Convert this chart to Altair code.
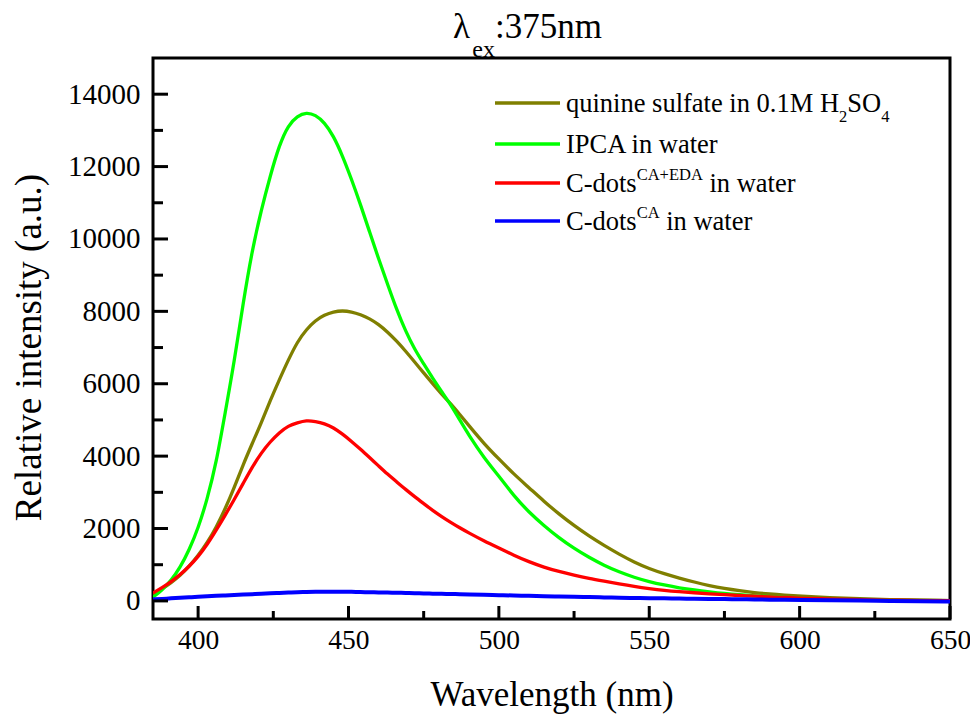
import altair as alt
import pandas as pd

# ---------------- data ----------------
wavelength = [385, 388, 391, 394, 397, 400, 403, 406, 409, 412, 415, 418, 421, 424, 427, 430,
              433, 436, 439, 442, 445, 448, 451, 454, 457, 460, 463, 466, 469, 472, 475, 478,
              481, 484, 487, 490, 495, 500, 505, 510, 515, 520, 525, 530, 535, 540, 545, 550,
              555, 560, 565, 570, 575, 580, 585, 590, 595, 600, 610, 620, 630, 640, 650]

quinine = [190, 330, 500, 700, 950, 1250, 1600, 2030, 2540, 3130, 3770, 4350, 4920, 5540, 6110, 6660,
           7160, 7500, 7750, 7900, 7990, 8020, 7990, 7910, 7800, 7640, 7430, 7180, 6900, 6600, 6300, 6000,
           5710, 5450, 5150, 4850, 4350, 3920, 3500, 3130, 2750, 2400, 2080, 1790, 1530, 1290, 1070, 890,
           750, 630, 520, 420, 340, 280, 230, 190, 160, 135, 90, 60, 35, 20, 10]

ipca = [100, 300, 560, 920, 1400, 2000, 2800, 3800, 5200, 6600, 8250, 9700, 10800, 11750, 12600, 13150,
        13400, 13500, 13430, 13220, 12850, 12300, 11650, 10950, 10200, 9450, 8750, 8050, 7450, 6950, 6550, 6150,
        5780, 5420, 5000, 4580, 3960, 3450, 2900, 2450, 2080, 1740, 1450, 1200, 980, 800, 650, 530,
        440, 360, 300, 250, 205, 170, 140, 115, 95, 80, 50, 30, 18, 10, 5]

cdots_eda = [220, 360, 530, 720, 950, 1220, 1550, 1950, 2370, 2800, 3250, 3700, 4090, 4400, 4650, 4840,
             4920, 4990, 4960, 4900, 4790, 4610, 4410, 4190, 3960, 3730, 3500, 3290, 3080, 2880, 2690, 2500,
             2330, 2170, 2020, 1880, 1660, 1460, 1260, 1080, 930, 810, 710, 620, 545, 470, 400, 340,
             290, 255, 225, 195, 170, 150, 130, 110, 95, 80, 55, 35, 22, 12, 8]

cdots_ca = [40, 55, 70, 85, 100, 115, 125, 140, 150, 165, 175, 185, 195, 210, 220, 230,
            240, 245, 250, 255, 255, 255, 250, 245, 240, 235, 230, 225, 220, 215, 205, 200,
            195, 190, 185, 180, 165, 160, 150, 140, 130, 120, 115, 105, 95, 90, 80, 75,
            70, 65, 60, 55, 50, 45, 40, 35, 30, 30, 20, 10, 0, -10, -15]

series_keys = ["quinine", "ipca", "eda", "ca"]
series_values = [quinine, ipca, cdots_eda, cdots_ca]
series_colors = ["#7f7f00", "#00ff00", "#ff0000", "#0000ff"]

x_major = [400, 450, 500, 550, 600, 650]
x_minor = [425, 475, 525, 575, 625]
y_major = [0, 2000, 4000, 6000, 8000, 10000, 12000, 14000]
y_minor = [1000, 3000, 5000, 7000, 9000, 11000, 13000]

# legend text pieces: (text, role)  role: n = normal, sub = subscript, sup = superscript
legend_rows = [
    [("quinine sulfate in 0.1M H", "n"), ("2", "sub"), ("SO", "n"), ("4", "sub")],
    [("IPCA in water", "n")],
    [("C-dots", "n"), ("CA+EDA", "sup"), (" in water", "n")],
    [("C-dots", "n"), ("CA", "sup"), (" in water", "n")],
]
title_pieces = [("λ", "n"), ("ex", "sub"), (":375nm", "n")]

x_title = "Wavelength (nm)"
y_title = "Relative intensity (a.u.)"

# ---------------- layout / style ----------------
W, H = 797, 561
FONT = "Liberation Serif"
XDOM = [385, 650]
YDOM = [-500, 15000]

# Times-metric character widths (per 1000 em) to place sub/superscripts
CW = {' ': 250, 'q': 500, 'u': 500, 'i': 278, 'n': 500, 'e': 444, 's': 389, 'l': 278, 'f': 333,
      'a': 444, 't': 278, '0': 500, '.': 250, '1': 500, 'M': 889, 'H': 722, 'S': 556, 'O': 722,
      'I': 333, 'P': 556, 'C': 667, 'A': 722, 'w': 722, 'r': 333, '-': 333, 'd': 500, 'o': 500,
      '+': 564, 'E': 611, 'D': 722, '2': 500, '4': 500, 'x': 500, ':': 278, '3': 500, '7': 500,
      '5': 500, 'm': 778, 'λ': 550}


def tw(s, fs):
    return sum(CW.get(c, 500) for c in s) * fs / 1000.0


xs = alt.Scale(domain=XDOM, nice=False, zero=False)
ys = alt.Scale(domain=YDOM, nice=False, zero=False)

x_axis = alt.Axis(
    values=x_major, format="d", ticks=False, tickSize=0, domain=False, grid=False,
    labelFont=FONT, labelFontSize=27.5, labelColor="black", labelPadding=7,
    labelFlush=False, labelOverlap=False,
    title=x_title, titleFont=FONT, titleFontSize=35, titleFontWeight="normal",
    titleColor="black", titleY=86, titleBaseline="alphabetic")
y_axis = alt.Axis(
    values=y_major, format="d", ticks=False, tickSize=0, domain=False, grid=False,
    labelFont=FONT, labelFontSize=29, labelColor="black", labelPadding=13,
    labelFlush=False, labelOverlap=False,
    title=y_title, titleFont=FONT, titleFontSize=37, titleFontWeight="normal",
    titleColor="black", titleAngle=-90, titleX=-124, titleY=289,
    titleBaseline="middle", titleAlign="center")

rows = []
for key, vals in zip(series_keys, series_values):
    for w, v in zip(wavelength, vals):
        rows.append({"wl": w, "v": v, "s": key})
df = pd.DataFrame(rows)

layers = []
for key, col in zip(series_keys, series_colors):
    sw = 4 if key == "ca" else 3.3
    layers.append(
        alt.Chart(df).transform_filter(alt.datum.s == key)
        .mark_line(color=col, strokeWidth=sw, clip=True, interpolate="basis")
        .encode(x=alt.X("wl:Q", scale=xs, axis=x_axis),
                y=alt.Y("v:Q", scale=ys, axis=y_axis),
                order="wl:Q")
    )

# inward ticks
tick_df_xM = pd.DataFrame({"t": x_major})
tick_df_xm = pd.DataFrame({"t": x_minor})
tick_df_yM = pd.DataFrame({"t": y_major})
tick_df_ym = pd.DataFrame({"t": y_minor})
layers.append(alt.Chart(tick_df_xM).mark_rule(color="black", strokeWidth=3).encode(
    x=alt.X("t:Q", scale=xs, axis=x_axis), y=alt.value(H), y2=alt.value(H - 13)))
layers.append(alt.Chart(tick_df_xm).mark_rule(color="black", strokeWidth=3).encode(
    x=alt.X("t:Q", scale=xs, axis=x_axis), y=alt.value(H), y2=alt.value(H - 8)))
layers.append(alt.Chart(tick_df_yM).mark_rule(color="black", strokeWidth=3).encode(
    y=alt.Y("t:Q", scale=ys, axis=y_axis), x=alt.value(0), x2=alt.value(15)))
layers.append(alt.Chart(tick_df_ym).mark_rule(color="black", strokeWidth=3).encode(
    y=alt.Y("t:Q", scale=ys, axis=y_axis), x=alt.value(0), x2=alt.value(10)))

one = pd.DataFrame({"a": [0]})


def add_text(text, x, y, fs):
    layers.append(alt.Chart(pd.DataFrame({"t": [text]})).mark_text(
        align="left", baseline="alphabetic", font=FONT, fontSize=fs, color="black"
    ).encode(text="t:N", x=alt.value(x), y=alt.value(y)))


def add_pieces(pieces, x0, base, fs, fss, dsub, dsup):
    cx = x0
    for text, role in pieces:
        f = fs if role == "n" else fss
        dy = 0 if role == "n" else (dsub if role == "sub" else dsup)
        t = text
        if t.startswith(" "):
            cx += tw(" ", f)
            t = t.lstrip(" ")
        add_text(t, cx, base + dy, f)
        cx += tw(t, f)


# legend
LEG_X0 = 413
LEG_BASE = [54, 95, 134, 172]
for i, (pieces, col) in enumerate(zip(legend_rows, series_colors)):
    b = LEG_BASE[i]
    layers.append(alt.Chart(one).mark_rule(color=col, strokeWidth=3.3).encode(
        x=alt.value(342), x2=alt.value(407), y=alt.value(b - 9)))
    add_pieces(pieces, LEG_X0, b, 26.5, 16.5, 10, -12.5)

# title
add_pieces(title_pieces, 300, -20, 35, 24, 18.5, -12)

chart = alt.layer(*layers).properties(
    width=W, height=H,
    background="white",
    autosize=alt.AutoSizeParams(type="none"),
    padding={"left": 145, "top": 50, "right": 20, "bottom": 95},
).configure_view(stroke="black", strokeWidth=3)

chart.save("out.html", embed_options={"renderer": "svg", "actions": False})
